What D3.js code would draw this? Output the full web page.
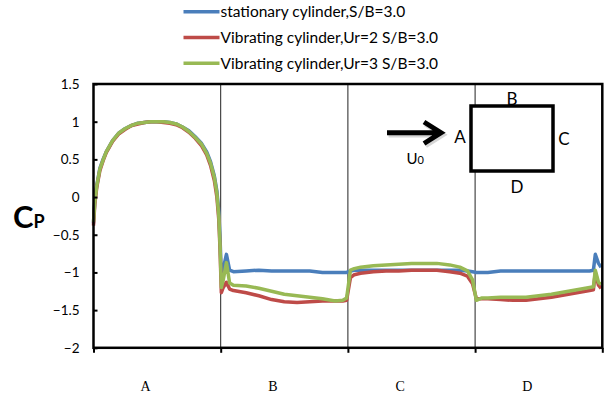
<!DOCTYPE html>
<html><head><meta charset="utf-8">
<script src="https://cdn.jsdelivr.net/npm/d3@7"></script>
<style>
html,body{margin:0;padding:0;background:#fff;}
svg{display:block;}
</style></head>
<body>
<svg id="chart" width="611" height="396"></svg>
<script>
// Perimeter position (0..4 over faces A,B,C,D)
const positions = [
  0, 0.01, 0.025, 0.05, 0.075, 0.1, 0.15, 0.2, 0.25, 0.3, 0.35, 0.4, 0.45, 0.5, 0.55, 0.6, 0.65, 0.7, 0.75, 0.8, 0.85, 0.89, 0.92, 0.95, 0.97, 0.985, 0.995,
  1.005, 1.02, 1.045, 1.07, 1.1, 1.2, 1.3, 1.4, 1.5, 1.6, 1.7, 1.8, 1.9, 1.96, 1.99,
  2.02, 2.05, 2.1, 2.2, 2.3, 2.4, 2.5, 2.6, 2.7, 2.8, 2.88, 2.94, 2.98,
  3.01, 3.05, 3.1, 3.2, 3.3, 3.4, 3.5, 3.6, 3.7, 3.8, 3.9, 3.93, 3.945, 3.97, 3.99
];
const stationary = [
  -0.35, -0.05, 0.15, 0.38, 0.5, 0.6, 0.75, 0.85, 0.91, 0.95, 0.98, 0.99, 1.0, 1.0, 1.0, 0.99, 0.97, 0.93, 0.88, 0.8, 0.71, 0.6, 0.47, 0.28, 0.08, -0.2, -0.55,
  -1.05, -0.95, -0.76, -0.97, -0.99, -0.98, -0.97, -0.98, -0.98, -0.98, -0.98, -1.0, -1.0, -1.0, -1.0,
  -0.98, -0.97, -0.97, -0.97, -0.97, -0.97, -0.97, -0.97, -0.97, -0.97, -0.97, -0.98, -0.99,
  -1.0, -1.0, -1.0, -0.98, -0.98, -0.98, -0.98, -0.98, -0.98, -0.98, -0.98, -0.97, -0.76, -0.88, -0.93
];
const vibratingUr2 = [
  -0.38, -0.1, 0.12, 0.35, 0.48, 0.59, 0.74, 0.84, 0.9, 0.95, 0.97, 0.99, 1.0, 1.0, 0.99, 0.98, 0.96, 0.92, 0.86, 0.78, 0.68, 0.56, 0.42, 0.22, 0.0, -0.3, -0.7,
  -1.27, -1.2, -1.13, -1.22, -1.24, -1.27, -1.31, -1.36, -1.39, -1.40, -1.39, -1.38, -1.38, -1.38, -1.37,
  -1.07, -1.03, -1.01, -0.99, -0.98, -0.98, -0.97, -0.97, -0.97, -0.99, -1.01, -1.05, -1.15,
  -1.35, -1.35, -1.35, -1.36, -1.37, -1.37, -1.35, -1.33, -1.30, -1.27, -1.24, -1.23, -1.0, -1.17, -1.21
];
const vibratingUr3 = [
  -0.33, -0.07, 0.14, 0.37, 0.49, 0.6, 0.75, 0.85, 0.91, 0.95, 0.98, 0.99, 1.0, 1.0, 1.0, 0.99, 0.97, 0.93, 0.87, 0.79, 0.7, 0.58, 0.45, 0.26, 0.05, -0.25, -0.65,
  -1.2, -1.1, -0.87, -1.14, -1.17, -1.18, -1.21, -1.25, -1.29, -1.31, -1.33, -1.35, -1.38, -1.37, -1.34,
  -0.97, -0.95, -0.93, -0.91, -0.90, -0.89, -0.88, -0.88, -0.88, -0.90, -0.93, -0.98, -1.1,
  -1.37, -1.34, -1.34, -1.33, -1.33, -1.33, -1.31, -1.29, -1.26, -1.23, -1.2, -1.19, -0.97, -1.13, -1.16
];
const seriesNames = ["stationary cylinder,S/B=3.0", "Vibrating cylinder,Ur=2 S/B=3.0", "Vibrating cylinder,Ur=3 S/B=3.0"];
const seriesColors = ["#4a7ebb", "#be4b48", "#98b954"];
const faceLabels = ["A", "B", "C", "D"];
const yTicks = [-2, -1.5, -1, -0.5, 0, 0.5, 1, 1.5];

const svg = d3.select("#chart");
const pLeft = 93.5, pRight = 602.3, pTop = 84, pBottom = 347.8;
const x = d3.scaleLinear().domain([0, 4]).range([pLeft, pRight]);
const y = d3.scaleLinear().domain([-2, 1.5]).range([pBottom, pTop]);

// dividers
svg.append("g").selectAll("line").data([1, 2, 3]).join("line")
  .attr("x1", d => x(d)).attr("x2", d => x(d)).attr("y1", pTop).attr("y2", pBottom)
  .attr("stroke", "#222").attr("stroke-width", 1);

// series
const allSeries = [stationary, vibratingUr2, vibratingUr3];
const line = d3.line().x(d => x(d[0])).y(d => y(d[1]));
allSeries.forEach((vals, i) => {
  svg.append("path")
    .datum(positions.map((p, j) => [p, vals[j]]))
    .attr("d", line)
    .attr("fill", "none")
    .attr("stroke", seriesColors[i])
    .attr("stroke-width", 3.5)
    .attr("stroke-linejoin", "round");
});

// frame
svg.append("rect").attr("x", pLeft).attr("y", pTop).attr("width", pRight - pLeft).attr("height", pBottom - pTop)
  .attr("fill", "none").attr("stroke", "#000").attr("stroke-width", 2.5);

// y axis
const yAxis = d3.axisLeft(y).tickValues(yTicks).tickSize(-4).tickPadding(14)
  .tickFormat(d => d3.format("")(d));
const gy = svg.append("g").attr("transform", `translate(${pLeft},0)`).call(yAxis);
gy.select(".domain").remove();
gy.selectAll(".tick line").attr("stroke", "#000").attr("stroke-width", 2);
gy.selectAll(".tick text").attr("font-family", "Lato, 'Open Sans', sans-serif").attr("font-size", 13.5).attr("fill", "#000");

// x axis ticks
const xAxis = d3.axisBottom(x).tickValues([0, 1, 2, 3, 4]).tickSize(5).tickFormat("");
const gx = svg.append("g").attr("transform", `translate(0,${pBottom})`).call(xAxis);
gx.select(".domain").remove();
gx.selectAll(".tick line").attr("stroke", "#000").attr("stroke-width", 2);

// face labels
svg.append("g").selectAll("text").data(faceLabels).join("text")
  .attr("x", (d, i) => x(i + 0.41)).attr("y", 391)
  .attr("text-anchor", "middle")
  .attr("font-family", "'Liberation Serif', 'Times New Roman', serif")
  .attr("font-size", 14).attr("fill", "#000").text(d => d);

// Cp label
const cp = svg.append("text").attr("x", 13).attr("y", 228)
  .attr("font-family", "Lato, 'Open Sans', sans-serif").attr("font-weight", "bold").attr("fill", "#000");
cp.append("tspan").attr("font-size", 31).text("C");
cp.append("tspan").attr("font-size", 18).text("P");

// legend
const lg = svg.append("g");
seriesNames.forEach((name, i) => {
  const yy = 11.7 + i * 25.8;
  lg.append("line").attr("x1", 183.5).attr("x2", 219.5).attr("y1", yy).attr("y2", yy)
    .attr("stroke", seriesColors[i]).attr("stroke-width", 3.5);
  lg.append("text").attr("x", 220.5).attr("y", yy + 5.2)
    .attr("font-family", "Lato, 'Open Sans', sans-serif").attr("font-size", 15.5).attr("fill", "#000").text(name);
});

// schematic
const sc = svg.append("g");
sc.append("rect").attr("x", 471).attr("y", 106).attr("width", 82).attr("height", 65)
  .attr("fill", "#fff").attr("stroke", "#000").attr("stroke-width", 3.5);
const font = "Lato, 'Open Sans', sans-serif";
[["A", 460, 143], ["B", 512, 104.5], ["C", 564, 144.5], ["D", 517, 193]].forEach(([t, xx, yy]) => {
  sc.append("text").attr("x", xx).attr("y", yy).attr("text-anchor", "middle")
    .attr("font-family", font).attr("font-size", 17).attr("fill", "#000").text(t);
});
// arrow with soft shadow
const arrowPath = "M387,132.7 L440,132.7 M424,122 L441,132.7 L424,143.5";
sc.append("path").attr("d", arrowPath).attr("transform", "translate(1.5,2)")
  .attr("fill", "none").attr("stroke", "#bbb").attr("stroke-width", 5.5).attr("opacity", 0.6);
sc.append("path").attr("d", arrowPath)
  .attr("fill", "none").attr("stroke", "#000").attr("stroke-width", 5).attr("stroke-linejoin", "miter");
const u = sc.append("text").attr("x", 406.5).attr("y", 164).attr("font-family", font).attr("fill", "#000");
u.append("tspan").attr("font-size", 15).text("U");
u.append("tspan").attr("font-size", 11).text("0");
</script>
</body></html>
